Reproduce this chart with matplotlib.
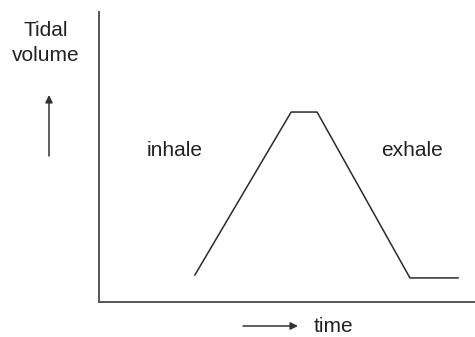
import matplotlib.pyplot as plt

# breathing trace, arbitrary units
time = [25.5, 51.1, 58.0, 82.7, 95.5]
volume = [9.3, 65.5, 65.5, 8.3, 8.3]

W, H = 475, 337
fig = plt.figure(figsize=(W / 100, H / 100), dpi=100)
ax = fig.add_axes([99 / W, 35 / H, 376 / W, 290 / H])
ax.plot(time, volume, color="#2b2b2b", lw=1.1)
ax.set_xlim(0, 100); ax.set_ylim(0, 100)
ax.set_xticks([]); ax.set_yticks([])
for s in ("top", "right"):
    ax.spines[s].set_visible(False)
for s in ("left", "bottom"):
    ax.spines[s].set_color("#555555")
    ax.spines[s].set_linewidth(1.4)

font = dict(family="Liberation Sans", fontsize=15, color="#222222")
fig.text(46 / W, 301 / H, "Tidal", ha="center", va="baseline", **font)
fig.text(46 / W, 276 / H, "volume", ha="center", va="baseline", **font)
fig.text(175 / W, 181 / H, "inhale", ha="center", va="baseline", **font)
fig.text(412 / W, 181 / H, "exhale", ha="center", va="baseline", **font)
fig.text(333 / W, 5 / H, "time", ha="center", va="baseline", **font)

arrow = dict(arrowstyle="-|>", color="#333333", lw=1.1, mutation_scale=11,
             shrinkA=0, shrinkB=0)
ax.annotate("", xy=(49, 242), xytext=(49, 181), xycoords="figure pixels",
            textcoords="figure pixels", arrowprops=arrow, annotation_clip=False)
ax.annotate("", xy=(298, 11), xytext=(243, 11), xycoords="figure pixels",
            textcoords="figure pixels", arrowprops=arrow, annotation_clip=False)

fig.savefig("out.png", dpi=100)
